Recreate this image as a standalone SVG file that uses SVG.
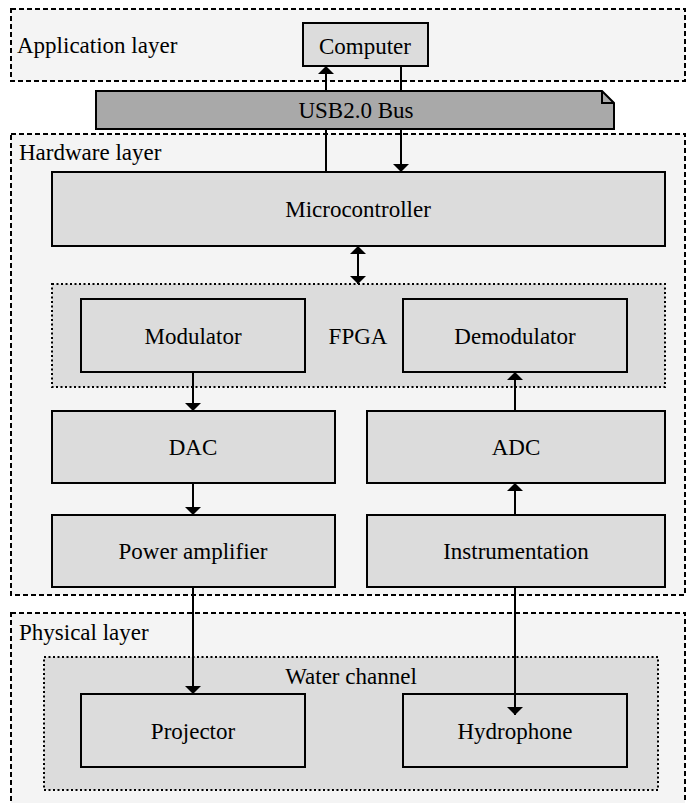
<svg xmlns="http://www.w3.org/2000/svg" width="692" height="803" viewBox="0 0 692 803">
<style>
.layer{fill:#f4f4f4;stroke:#000;stroke-width:2;stroke-dasharray:5 3}
.group{fill:#dcdcdc;stroke:#000;stroke-width:2;stroke-dasharray:2 2.5}
.box{fill:#dcdcdc;stroke:#000;stroke-width:2}
.bus{fill:#a9a9a9;stroke:#000;stroke-width:2}
text{font-family:"Liberation Serif","Times New Roman",serif;font-size:23px;fill:#000}
.c{text-anchor:middle}
.conn line{stroke:#000;stroke-width:2;fill:none}
</style>
<defs>
<marker id="ah" markerUnits="userSpaceOnUse" markerWidth="8" markerHeight="16" viewBox="0 0 8 16" refX="8" refY="8" orient="auto-start-reverse">
<path d="M0,0 L8,8 L0,16 Z" fill="#000"/>
</marker>
</defs>
<g id="application-layer">
<rect class="layer" x="11" y="9" width="674" height="72"/>
<text x="17" y="53">Application layer</text>
</g>
<g id="hardware-layer">
<rect class="layer" x="11" y="134" width="674" height="461"/>
<text x="19" y="160">Hardware layer</text>
</g>
<g id="physical-layer">
<rect class="layer" x="11" y="613" width="674" height="200"/>
<text x="19" y="640">Physical layer</text>
</g>
<g id="computer">
<rect class="box" x="303" y="23" width="125" height="43"/>
<text class="c" x="365" y="54">Computer</text>
</g>
<g id="usb-bus">
<path class="bus" d="M96,91 H602 L614,103 V129 H96 Z"/>
<path d="M602,91 V103 H614" fill="none" stroke="#000" stroke-width="2"/>
<text class="c" x="356" y="118">USB2.0 Bus</text>
</g>
<g id="microcontroller">
<rect class="box" x="52" y="172" width="613" height="74"/>
<text class="c" x="358" y="217">Microcontroller</text>
</g>
<g id="fpga">
<rect class="group" x="52" y="284" width="613" height="103"/>
<text class="c" x="358" y="344">FPGA</text>
</g>
<g id="modulator">
<rect class="box" x="81" y="299" width="224" height="73"/>
<text class="c" x="193" y="344">Modulator</text>
</g>
<g id="demodulator">
<rect class="box" x="403" y="299" width="224" height="73"/>
<text class="c" x="515" y="344">Demodulator</text>
</g>
<g id="dac">
<rect class="box" x="52" y="411" width="283" height="72"/>
<text class="c" x="193" y="455">DAC</text>
</g>
<g id="adc">
<rect class="box" x="367" y="411" width="298" height="72"/>
<text class="c" x="516" y="455">ADC</text>
</g>
<g id="power-amplifier">
<rect class="box" x="52" y="515" width="283" height="72"/>
<text class="c" x="193" y="559">Power amplifier</text>
</g>
<g id="instrumentation">
<rect class="box" x="367" y="515" width="298" height="72"/>
<text class="c" x="516" y="559">Instrumentation</text>
</g>
<g id="water-channel">
<rect class="group" x="44" y="657" width="614" height="133"/>
<text class="c" x="351" y="684">Water channel</text>
</g>
<g id="projector">
<rect class="box" x="81" y="694" width="224" height="73"/>
<text class="c" x="193" y="739">Projector</text>
</g>
<g id="hydrophone">
<rect class="box" x="403" y="694" width="224" height="73"/>
<text class="c" x="515" y="739">Hydrophone</text>
</g>
<g id="connectors" class="conn">
<line x1="326" y1="91" x2="326" y2="66" marker-end="url(#ah)"/>
<line x1="401" y1="66" x2="401" y2="91"/>
<line x1="326" y1="129" x2="326" y2="172"/>
<line x1="401" y1="129" x2="401" y2="172" marker-end="url(#ah)"/>
<line x1="358" y1="246" x2="358" y2="284" marker-start="url(#ah)" marker-end="url(#ah)"/>
<line x1="193" y1="372" x2="193" y2="411" marker-end="url(#ah)"/>
<line x1="515" y1="411" x2="515" y2="372" marker-end="url(#ah)"/>
<line x1="193" y1="483" x2="193" y2="515" marker-end="url(#ah)"/>
<line x1="515" y1="515" x2="515" y2="483" marker-end="url(#ah)"/>
<line x1="193" y1="587" x2="193" y2="694" marker-end="url(#ah)"/>
<line x1="515" y1="587" x2="515" y2="715" marker-end="url(#ah)"/>
</g>
</svg>
